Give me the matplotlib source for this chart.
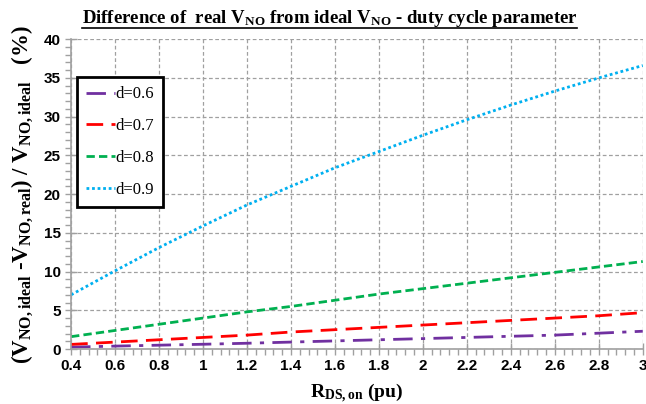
import matplotlib
matplotlib.use("Agg")
import matplotlib.pyplot as plt
from matplotlib.lines import Line2D
from matplotlib.ticker import MultipleLocator, AutoMinorLocator, FuncFormatter

# R_DS,on sweep (pu) and relative error of V_NO (%) per duty cycle
r_ds = [0.4, 0.6, 0.8, 1.0, 1.2, 1.4, 1.6, 1.8, 2.0, 2.2, 2.4, 2.6, 2.8, 3.0]
err_d06 = [0.25, 0.38, 0.5, 0.62, 0.75, 0.9, 1.05, 1.2, 1.35, 1.5, 1.65, 1.8, 2.05, 2.3]
err_d07 = [0.6, 0.9, 1.2, 1.5, 1.8, 2.2, 2.5, 2.8, 3.1, 3.4, 3.7, 4.0, 4.3, 4.7]
err_d08 = [1.6, 2.4, 3.2, 4.0, 4.8, 5.5, 6.3, 7.1, 7.8, 8.5, 9.2, 9.9, 10.6, 11.3]
err_d09 = [7.0, 10.1, 13.1, 15.9, 18.6, 21.0, 23.4, 25.5, 27.6, 29.6, 31.5, 33.3, 35.0, 36.6]
labels = ["d=0.6", "d=0.7", "d=0.8", "d=0.9"]

plt.rcParams["mathtext.fontset"] = "custom"
plt.rcParams["mathtext.rm"] = "Liberation Serif:bold"
plt.rcParams["mathtext.it"] = "Liberation Serif:bold"
plt.rcParams["mathtext.bf"] = "Liberation Serif:bold"

fig = plt.figure(figsize=(6.46, 4.04), dpi=100)
ax = fig.add_axes([0.11, 0.136, 0.885, 0.767])

styles = [
    dict(color="#7030A0", dashes=(7, 3, 1.5, 3)),
    dict(color="#FF0000", dashes=(6, 3)),
    dict(color="#00B050", dashes=(3, 1.5)),
    dict(color="#00B0F0", dashes=(1, 1)),
]
handles = []
for ys, st, lab in zip([err_d06, err_d07, err_d08, err_d09], styles, labels):
    ln, = ax.plot(r_ds, ys, lw=2, label=lab, **st)
    handles.append(ln)

ax.set_xlim(0.4, 3.0)
ax.set_ylim(0, 40)
ax.xaxis.set_major_locator(MultipleLocator(0.2))
ax.yaxis.set_major_locator(MultipleLocator(5))
ax.xaxis.set_minor_locator(AutoMinorLocator(5))
ax.yaxis.set_minor_locator(AutoMinorLocator(5))
ax.xaxis.set_major_formatter(FuncFormatter(lambda v, p: f"{v:g}"))

ax.grid(True, which="major", color="#a0a0a0", ls=(0, (3, 2)), lw=0.9)
for side in ("top", "right"):
    ax.spines[side].set_visible(False)
for side in ("left", "bottom"):
    ax.spines[side].set_color("#a0a0a0")
    ax.spines[side].set_linewidth(1.2)
ax.tick_params(which="major", direction="inout", length=8, color="#a0a0a0", width=1)
ax.tick_params(which="minor", direction="out", length=4, color="#a0a0a0", width=1)
ax.tick_params(labelsize=11)
for t in ax.get_xticklabels() + ax.get_yticklabels():
    t.set_fontfamily("Liberation Sans")
    t.set_fontweight("bold")

ax.set_xlabel(r"$\mathrm{R_{DS,on}}$ (pu)", family="Liberation Serif",
              fontweight="bold", fontsize=14, labelpad=6)
ax.set_ylabel(r"($\mathrm{V_{NO,ideal}}$ -$\mathrm{V_{NO,real}}$) / $\mathrm{V_{NO,ideal}}$   (%)",
              family="Liberation Serif", fontweight="bold", fontsize=16.5, labelpad=6)

leg = ax.legend(handles=handles, loc="upper left", bbox_to_anchor=(0.0105, 0.877),
                borderaxespad=0, prop=dict(family="Liberation Serif", size=12),
                handlelength=1.75, handletextpad=0.0, labelspacing=0.95,
                borderpad=0.55, fancybox=False, framealpha=1)
leg.get_frame().set_edgecolor("black")
leg.get_frame().set_linewidth(2)

title = fig.text(0.51, 0.955,
                 r"Difference of  real $\mathrm{V_{NO}}$ from ideal $\mathrm{V_{NO}}$ - duty cycle parameter",
                 ha="center", va="center", family="Liberation Serif",
                 fontweight="bold", fontsize=13.5)

# underline under the title text
fig.canvas.draw()
bb = title.get_window_extent().transformed(fig.transFigure.inverted())
fig.add_artist(Line2D([bb.x0, bb.x1], [bb.y0 + 0.002, bb.y0 + 0.002],
                      transform=fig.transFigure, color="black", lw=1.2))

fig.savefig("out.png", dpi=100)
